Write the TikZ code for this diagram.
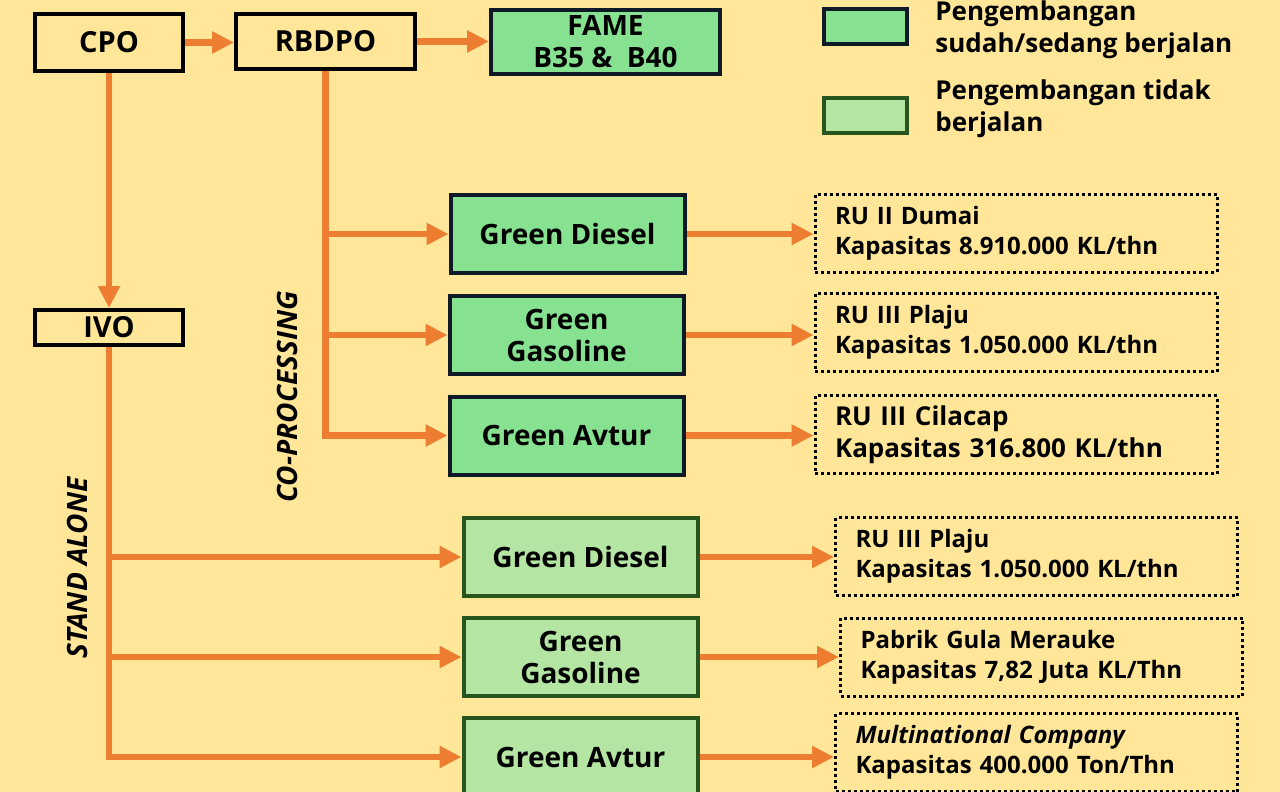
\documentclass[tikz,border=0pt]{standalone}
\usepackage{fontspec}
\setmainfont{Open Sans}
\usetikzlibrary{arrows.meta}

\definecolor{bgyellow}{RGB}{255,230,153}
\definecolor{floworange}{RGB}{237,125,49}
\definecolor{donegreen}{RGB}{134,226,144}
\definecolor{doneline}{RGB}{14,27,38}
\definecolor{idlegreen}{RGB}{180,229,162}
\definecolor{idleline}{RGB}{40,84,30}

\tikzset{
  rawbox/.style={draw=black, line width=2pt, inner sep=0pt, align=center,
    font=\bfseries\fontsize{14.5}{16}\selectfont},
  donebox/.style={rawbox, draw=doneline, fill=donegreen, minimum width=117pt, minimum height=39pt,
    font=\bfseries\fontsize{14}{16}\selectfont},
  idlebox/.style={donebox, draw=idleline, fill=idlegreen},
  infobox/.style={draw=black, line width=1.5pt, dash pattern=on 1.5pt off 1.5pt,
    inner xsep=10pt, inner ysep=0pt, text width=181pt, minimum height=39pt, align=left,
    font=\bfseries\fontsize{12}{15}\selectfont},
  keytext/.style={anchor=west, inner sep=0pt, align=left, font=\bfseries\fontsize{13}{16}\selectfont},
  routetext/.style={rotate=90, font=\bfseries\itshape\fontsize{14}{16}\selectfont},
  flow/.style={draw=floworange, line width=3.2pt, -{Triangle[length=11pt,width=10.5pt]}},
}

\begin{document}
\begin{tikzpicture}[x=0.5pt,y=-0.5pt]
% \clip (0,0) rectangle (1280,792);
\useasboundingbox (0,0) rectangle (1280,792);%
\clip (0,0) rectangle (1280,792);%
\fill[bgyellow] (0,0) rectangle (1280,792);%

% Drawing raw material boxes
\node[rawbox, minimum width=74pt, minimum height=28.5pt] (cpo) at (109,42.5) {CPO};%
\node[rawbox, minimum width=89.5pt, minimum height=27.5pt] (rbdpo) at (325.5,41.5) {RBDPO};%
\node[rawbox, draw=doneline, fill=donegreen, minimum width=114.5pt, minimum height=32pt,
  font=\bfseries\fontsize{14}{16}\selectfont] (fame) at (605.5,42) {FAME\\B35 \&\ \ B40};%
\node[rawbox, minimum width=74pt, minimum height=17.5pt] (ivo) at (109,327.5) {IVO};%

% Drawing legend
\node[rawbox, draw=doneline, fill=donegreen, minimum width=41.5pt, minimum height=17.5pt] (keydone) at (865.5,26.5) {};%
\node[rawbox, draw=idleline, fill=idlegreen, minimum width=41.5pt, minimum height=17.5pt] (keyidle) at (865.5,115.5) {};%
\node[keytext] (keydonetext) at (935,29.5) {Pengembangan\\sudah/sedang berjalan};%
\node[keytext] (keyidletext) at (935,109) {Pengembangan tidak\\berjalan};%

% Drawing co-processing products
\node[donebox] (codiesel) at (567.5,234) {Green Diesel};%
\node[donebox] (cogasoline) at (566.5,335) {Green\\Gasoline};%
\node[donebox] (coavtur) at (566.5,435.5) {Green Avtur};%

% Drawing stand alone products
\node[idlebox] (sadiesel) at (580.5,557) {Green Diesel};%
\node[idlebox] (sagasoline) at (580.5,657) {Green\\Gasoline};%
\node[idlebox] (saavtur) at (580.5,757) {Green Avtur};%

% Drawing refinery boxes
\node[infobox] (rudumai) at (1016,233.5) {RU II Dumai\\Kapasitas 8.910.000 KL/thn};%
\node[infobox] (ruplaju) at (1016,332.5) {RU III Plaju\\Kapasitas 1.050.000 KL/thn};%
\node[infobox, font=\bfseries\fontsize{13}{16}\selectfont] (rucilacap) at (1016,434.5) {RU III Cilacap\\Kapasitas 316.800 KL/thn};%
\node[infobox] (saplaju) at (1036.5,556.5) {RU III Plaju\\Kapasitas 1.050.000 KL/thn};%
\node[infobox] (merauke) at (1041.5,657) {Pabrik Gula Merauke\\Kapasitas 7,82 Juta KL/Thn};%
\node[infobox] (mnc) at (1036.5,752.5) {\textit{Multinational Company}\\Kapasitas 400.000 Ton/Thn};%

% Marking routes
\node[routetext] (coproc) at (287,397) {CO-PROCESSING};%
\node[routetext] (standalone) at (77,568) {STAND ALONE};%

% Drawing arrows CPO RBDPO FAME IVO
\draw[flow] (cpo.east) -- (cpo.east -| rbdpo.west);%
\draw[flow] (rbdpo.east) -- (rbdpo.east -| fame.west);%
\draw[flow] (cpo.south) -- (ivo.north);%

% Drawing co-processing branches
\draw[flow] (rbdpo.south) |- (coavtur.west);%
\draw[flow] (rbdpo.south |- codiesel.west) -- (codiesel.west);%
\draw[flow] (rbdpo.south |- cogasoline.west) -- (cogasoline.west);%

% Drawing stand alone branches
\draw[flow] (ivo.south) |- (saavtur.west);%
\draw[flow] (ivo.south |- sadiesel.west) -- (sadiesel.west);%
\draw[flow] (ivo.south |- sagasoline.west) -- (sagasoline.west);%

% Drawing arrows to refineries
\draw[flow] (codiesel.east) -- (codiesel.east -| rudumai.west);%
\draw[flow] (cogasoline.east) -- (cogasoline.east -| ruplaju.west);%
\draw[flow] (coavtur.east) -- (coavtur.east -| rucilacap.west);%
\draw[flow] (sadiesel.east) -- (sadiesel.east -| saplaju.west);%
\draw[flow] (sagasoline.east) -- (sagasoline.east -| merauke.west);%
\draw[flow] (saavtur.east) -- (saavtur.east -| mnc.west);%
\end{tikzpicture}
\end{document}
